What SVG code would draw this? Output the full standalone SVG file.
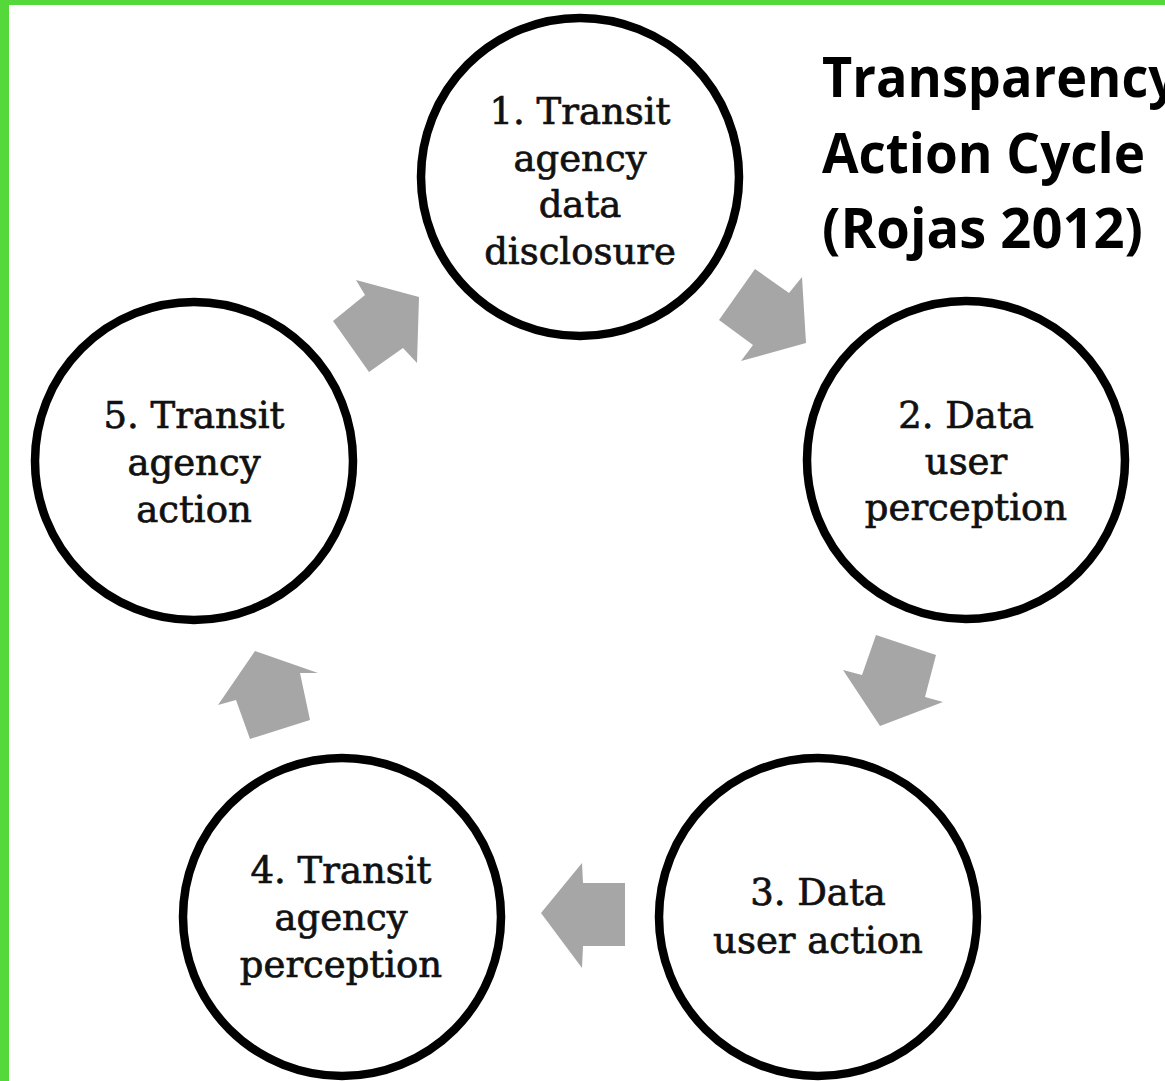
<svg xmlns="http://www.w3.org/2000/svg" width="1165" height="1081" viewBox="0 0 1165 1081">
<style>
.node circle{fill:#ffffff;stroke:#000000;stroke-width:8.5}
.node text{font-family:"DejaVu Serif","Liberation Serif",serif;font-size:37px;fill:#111111;stroke:#111111;stroke-width:0.7;text-anchor:middle}
.arrow{fill:#a6a6a6}
.title{font-family:"Open Sans","Liberation Sans",sans-serif;font-weight:bold;font-size:56px;fill:#000000}
</style>
<rect x="0" y="0" width="1165" height="1081" fill="#ffffff"/>
<rect x="0" y="0" width="1165" height="5" fill="#55d93a"/>
<rect x="0" y="0" width="9" height="1081" fill="#55d93a"/>
<g id="connectors">
<polygon class="arrow" points="719,320 755,269 789,293 802,277 806,343 741,361 753,345"/>
<polygon class="arrow" points="876,635 936,655 925,697 943,702 880,726 843,670 862,675"/>
<polygon class="arrow" points="625,883 625,946 583,946 582,968 541,913 582,863 583,883"/>
<polygon class="arrow" points="250,739 310,720 300,673 318,673 255,651 218,705 236,700"/>
<polygon class="arrow" points="333,321 369,372 403,348 417,363 419,297 356,280 365,295"/>
</g>
<g id="node1" class="node">
<circle cx="580" cy="177" r="159"/>
<text x="580" y="124">1. Transit</text>
<text x="580" y="171">agency</text>
<text x="580" y="217">data</text>
<text x="580" y="264">disclosure</text>
</g>
<g id="node2" class="node">
<circle cx="966" cy="460" r="159"/>
<text x="966" y="428">2. Data</text>
<text x="966" y="474">user</text>
<text x="966" y="520">perception</text>
</g>
<g id="node3" class="node">
<circle cx="818" cy="917" r="159"/>
<text x="818" y="905">3. Data</text>
<text x="818" y="953">user action</text>
</g>
<g id="node4" class="node">
<circle cx="342" cy="917" r="159"/>
<text x="341" y="883">4. Transit</text>
<text x="341" y="930">agency</text>
<text x="341" y="977">perception</text>
</g>
<g id="node5" class="node">
<circle cx="194" cy="461" r="159"/>
<text x="194" y="428">5. Transit</text>
<text x="194" y="475">agency</text>
<text x="194" y="522">action</text>
</g>
<g id="title">
<text class="title" x="822" y="97" textLength="356" lengthAdjust="spacingAndGlyphs">Transparency</text>
<text class="title" x="822" y="173" textLength="323" lengthAdjust="spacingAndGlyphs">Action Cycle</text>
<text class="title" x="822" y="248" textLength="321" lengthAdjust="spacingAndGlyphs">(Rojas 2012)</text>
</g>
</svg>
